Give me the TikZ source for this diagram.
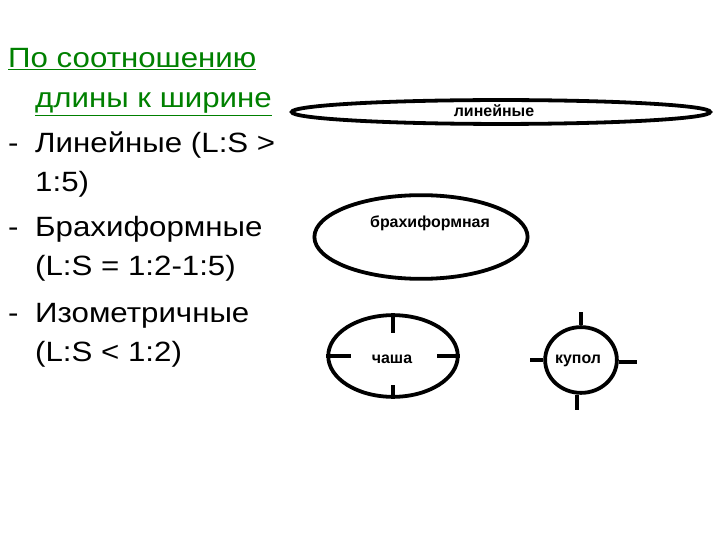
\documentclass[tikz,border=0pt]{standalone}
\usepackage{fontspec}
\setmainfont{Liberation Sans}
\newfontfamily\listfont[FakeStretch=1.12]{Liberation Sans}
\usetikzlibrary{shapes.geometric}
\definecolor{titlegreen}{RGB}{0,128,0}
\tikzset{
  form/.style={ellipse,draw,line width=3.8bp,inner sep=0pt},
  lbl/.style={font=\fontsize{16}{18}\selectfont\bfseries},
  tick/.style={line width=3.8bp},
  listline/.style={anchor=base west,inner sep=0pt,font=\listfont\fontsize{28}{32}\selectfont}
}
\begin{document}
\begin{tikzpicture}[x=1bp,y=-1bp]
  \useasboundingbox (0,0) rectangle (720,540);

  % list on the left
  \begin{scope}[every node/.style={listline}]
    \node[text=titlegreen] (t1) at (8,68)  {\underline{По соотношению}};
    \node[text=titlegreen] (t2) at (35,108) {\underline{длины к ширине}};
    \node (d1) at (8,153)  {-};
    \node (l1) at (35,153) {Линейные (L:S >};
    \node (l2) at (35,192) {1:5)};
    \node (d2) at (8,237)  {-};
    \node (b1) at (35,237) {Брахиформные};
    \node (b2) at (35,276) {(L:S = 1:2-1:5)};
    \node (d3) at (8,322)  {-};
    \node (i1) at (35,322) {Изометричные};
    \node (i2) at (35,361) {(L:S < 1:2)};
  \end{scope}

  % forms
  \node[form,minimum width=420,minimum height=24] (lin) at (501,112) {};
  \node[lbl] at (494,111) {линейные};
  \node[form,minimum width=214,minimum height=84] (bra) at (421,237) {};
  \node[lbl] at (430,223) {брахиформная};
  \node[form,minimum width=130,minimum height=82] (cha) at (393,356) {};
  \node[lbl] at (392,359) {чаша};
  \node[form,minimum width=72,minimum height=66] (kup) at (581,360) {};
  \node[lbl] at (578,361) {купол};

  % ticks
  \begin{scope}[every path/.style={tick}]
    \draw (cha.north) -- ++(0,20);
    \draw (cha.south) -- ++(0,-14);
    \draw (cha.west)  -- ++(25,0);
    \draw (cha.east)  -- ++(-23,0);
    \draw (kup.north) -- ++(0,-13);
    \draw (kup.south) ++(-4,0) -- ++(0,15);
    \draw (kup.west)  -- ++(-13,0);
    \draw (kup.east)  ++(0,2) -- ++(18,0);
  \end{scope}

\end{tikzpicture}
\end{document}
